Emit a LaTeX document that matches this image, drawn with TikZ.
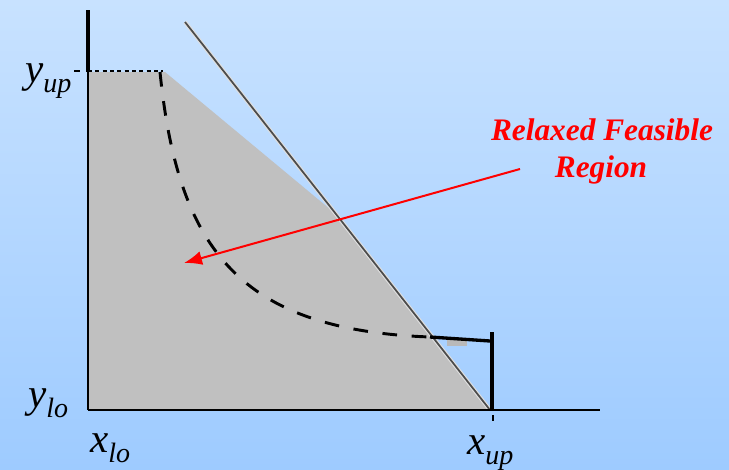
\documentclass[tikz,border=0pt]{standalone}
\usepackage{fontspec}
\setmainfont{Liberation Serif}
\usetikzlibrary{arrows.meta}
\definecolor{bgtop}{HTML}{C8E2FF}
\definecolor{bgbottom}{HTML}{9ECBFF}
\definecolor{regiongray}{HTML}{C0C0C0}
\newcommand{\boundlabel}[2]{\itshape #1\raisebox{-7.5pt}{\fontsize{21}{24}\selectfont #2}}

\begin{document}
\begin{tikzpicture}[
    x=0.75pt, y=-0.75pt,
    bound/.style={anchor=base west, inner sep=0pt, font=\fontsize{30.75}{36}\selectfont},
    redtext/.style={anchor=base, inner sep=0pt, text=red, font=\fontsize{23.5}{28}\selectfont\bfseries\itshape},
    axis/.style={line width=2pt},
    curve/.style={line width=2.2pt, dash pattern=on 11pt off 11pt},
    pointer/.style={-{Latex[length=13.5pt, width=10.5pt]}, line width=1.5pt, red}
]
% background
\shade[top color=bgtop, bottom color=bgbottom] (0,0) rectangle (729,469);
\useasboundingbox (0,0) rectangle (729,469);

% relaxed region
\fill[regiongray] (88,72) -- (165,72) -- (337,215) -- (490,410) -- (88,410) -- cycle;
\draw[white!75!gray, line width=3pt] (185,22) -- (490,410);
\draw[gray!60!black, line width=1.3pt] (185,22) -- (490,410);

% axes and bounds
\draw[line width=1.5pt] (88,72) -- (88,410);
\draw[line width=3.5pt] (88,10) -- (88,72);
\draw[axis] (88,410) -- (600,410);
\draw[line width=3.5pt] (492,332) -- (492,411);
\draw[line width=1pt] (74,71) -- (80,71);
\draw[line width=1pt] (493,415) -- (493,421);
\draw[line width=2pt, dash pattern=on 3pt off 2.5pt] (88,71) -- (163,71);

% original curve
\draw[curve] (160,72) .. controls (178,250) and (240,330) .. (430,337);
\fill[gray!55] (447,340) rectangle (467,346);
\draw[line width=2.5pt] (430,337) -- (490,341);

% labels
\node[bound] (yup) at (25,82) {\boundlabel{y}{up}};
\node[bound] (ylo) at (28,407) {\boundlabel{y}{lo}};
\node[bound] (xlo) at (90,452) {\boundlabel{x}{lo}};
\node[bound] (xup) at (467,454) {\boundlabel{x}{up}};

\node[redtext] (relaxed) at (602,140) {Relaxed Feasible};
\node[redtext] (region) at (601,177) {Region};
\coordinate (tail) at (520,169);
\coordinate (inside) at (184,263);
\draw[pointer] (tail) -- (inside);
\end{tikzpicture}
\end{document}
